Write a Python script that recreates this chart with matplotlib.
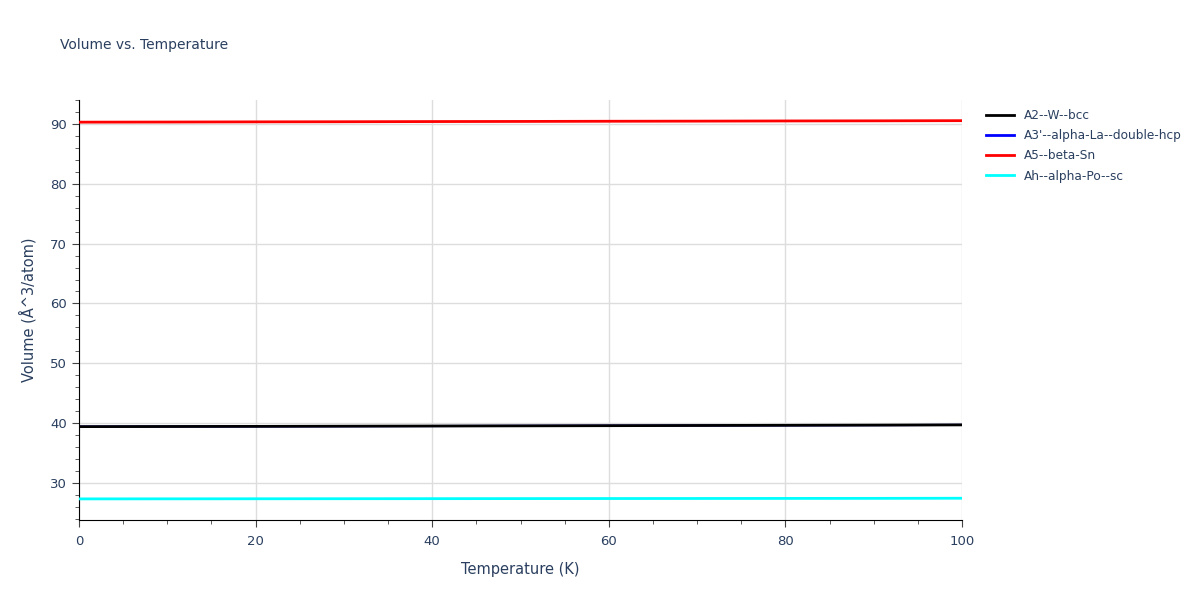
import numpy as np
import matplotlib.pyplot as plt
from matplotlib.ticker import MultipleLocator

# Datos
temperature = [0, 10, 20, 30, 40, 50, 60, 70, 80, 90, 100]
vol_a2_w_bcc = [39.41, 39.43, 39.45, 39.48, 39.51, 39.54, 39.57, 39.60, 39.63, 39.66, 39.70]
vol_a3_la_dhcp = [39.41, 39.43, 39.45, 39.48, 39.51, 39.54, 39.57, 39.60, 39.63, 39.66, 39.70]
vol_a5_beta_sn = [90.30, 90.32, 90.35, 90.37, 90.40, 90.42, 90.45, 90.47, 90.50, 90.52, 90.55]
vol_ah_po_sc = [27.33, 27.34, 27.35, 27.36, 27.37, 27.38, 27.39, 27.40, 27.41, 27.42, 27.44]

labels = ["A2--W--bcc", "A3'--alpha-La--double-hcp", "A5--beta-Sn", "Ah--alpha-Po--sc"]
colors = ["black", "blue", "red", "cyan"]

txt = '#2a3f5f'
fig = plt.figure(figsize=(12, 6), dpi=100)
ax = fig.add_axes([0.0658, 0.1333, 0.7359, 0.7])

# azul debajo del negro
ax.plot(temperature, vol_a3_la_dhcp, color=colors[1], lw=1.5, label=labels[1], zorder=2)
ax.plot(temperature, vol_a2_w_bcc, color=colors[0], lw=2, label=labels[0], zorder=3)
ax.plot(temperature, vol_a5_beta_sn, color=colors[2], lw=2, label=labels[2], zorder=3)
ax.plot(temperature, vol_ah_po_sc, color=colors[3], lw=2, label=labels[3], zorder=3)

ax.set_xlim(0, 100)
ax.set_ylim(23.8, 94.0)
ax.xaxis.set_major_locator(MultipleLocator(20))
ax.xaxis.set_minor_locator(MultipleLocator(5))
ax.yaxis.set_major_locator(MultipleLocator(10))
ax.yaxis.set_minor_locator(MultipleLocator(2))
ax.grid(True, which='major', color='#dddddd', lw=1, zorder=0)
ax.set_axisbelow(True)
for s in ['top', 'right']:
    ax.spines[s].set_visible(False)
for s in ['left', 'bottom']:
    ax.spines[s].set_color('black')
ax.tick_params(which='major', length=5, colors='#444444', labelcolor=txt, labelsize=9.5)
ax.tick_params(which='minor', length=3, colors='#444444')
ax.tick_params(axis='x', pad=6)

ax.set_xlabel('Temperature (K)', color=txt, fontsize=10.5, labelpad=10)
ax.set_ylabel('Volume (Å^3/atom)', color=txt, fontsize=10.5, labelpad=10)
fig.text(0.05, 0.925, 'Volume vs. Temperature', color=txt, fontsize=10, va='center')

h, l = ax.get_legend_handles_labels()
order = [1, 0, 2, 3]
leg = ax.legend([h[i] for i in order], [l[i] for i in order], loc='upper left',
                bbox_to_anchor=(1.015, 1.005), frameon=False, fontsize=8.7,
                handlelength=2.3, labelspacing=0.6)
for t in leg.get_texts():
    t.set_color(txt)
for ln in leg.get_lines():
    ln.set_linewidth(2)

plt.savefig('out.png')
